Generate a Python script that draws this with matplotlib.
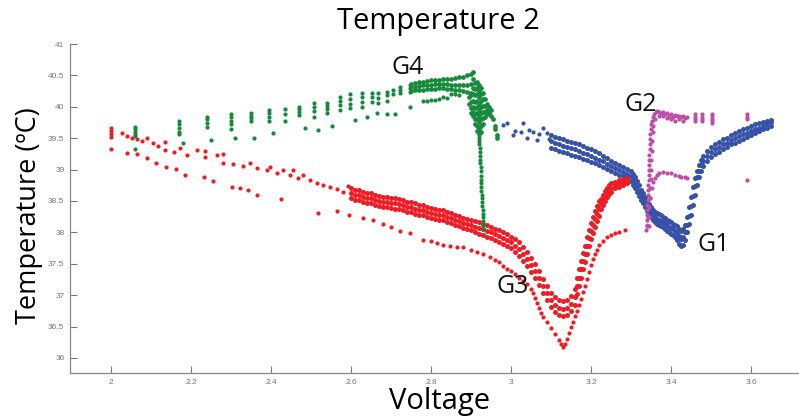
import numpy as np
import matplotlib
matplotlib.use('Agg')
import matplotlib.pyplot as plt

# ---- G3 (red) ----
g3_sparse_v = [2.0, 2.0, 2.0, 2.0, 2.0275, 2.04, 2.0525, 2.065, 2.0775, 2.09, 2.105, 2.1175, 2.135, 2.135,
               2.1575, 2.1725, 2.19, 2.215, 2.235, 2.235, 2.265, 2.28, 2.28, 2.305, 2.33, 2.3475, 2.365,
               2.39, 2.3975, 2.415, 2.43, 2.4475, 2.455, 2.4675, 2.48, 2.4975, 2.515, 2.53, 2.5475,
               2.565, 2.58, 2.5925]
g3_sparse_t = [39.66, 39.61, 39.57, 39.52, 39.58, 39.54, 39.50, 39.49, 39.46, 39.50, 39.42, 39.38, 39.44, 39.31,
               39.28, 39.34, 39.23, 39.31, 39.30, 39.20, 39.23, 39.25, 39.11, 39.09, 39.06, 39.11, 39.03,
               38.99, 39.04, 38.95, 38.99, 38.91, 38.99, 38.87, 38.91, 38.83, 38.79, 38.75, 38.72,
               38.69, 38.64, 38.74]

g3_band_v = [2.60, 2.61, 2.62, 2.63, 2.64, 2.65, 2.66, 2.67, 2.68, 2.69, 2.70, 2.71, 2.72, 2.73, 2.74, 2.75,
             2.76, 2.77, 2.78, 2.79, 2.80, 2.81, 2.82, 2.83, 2.84, 2.85, 2.86, 2.87, 2.88, 2.89, 2.90,
             2.91, 2.92, 2.93, 2.94, 2.95, 2.96, 2.97, 2.98, 2.99, 3.00,
             3.01, 3.02, 3.03, 3.04, 3.05, 3.06, 3.07, 3.08, 3.09, 3.10,
             3.11, 3.12, 3.13, 3.14, 3.15, 3.16,
             3.165, 3.17, 3.175, 3.18, 3.185, 3.19, 3.195, 3.20, 3.205, 3.21, 3.215, 3.22,
             3.225, 3.23, 3.235, 3.24, 3.245, 3.25,
             3.26, 3.27, 3.28, 3.29]
g3_band_hi = [38.70, 38.68, 38.67, 38.65, 38.63, 38.62, 38.60, 38.58, 38.57, 38.56, 38.55, 38.54, 38.53, 38.51,
              38.49, 38.48, 38.46, 38.44, 38.43, 38.41, 38.39, 38.38, 38.36, 38.35, 38.33, 38.31, 38.28,
              38.26, 38.23, 38.21, 38.19,
              38.18, 38.16, 38.14, 38.11, 38.09, 38.06, 38.03, 38.00, 37.97, 37.93,
              37.90, 37.84, 37.76, 37.68, 37.59, 37.49, 37.38, 37.26, 37.14, 37.03,
              36.97, 36.92, 36.90, 36.92, 36.98, 37.09,
              37.28, 37.41, 37.54, 37.67, 37.79, 37.92, 38.04, 38.15, 38.25, 38.34, 38.42, 38.50,
              38.53, 38.60, 38.66, 38.71, 38.75, 38.78,
              38.81, 38.83, 38.85, 38.86]
g3_band_mid = [38.62, 38.60, 38.59, 38.57, 38.55, 38.54, 38.52, 38.50, 38.49, 38.48, 38.47, 38.46, 38.45, 38.43,
               38.41, 38.40, 38.38, 38.36, 38.35, 38.33, 38.31, 38.30, 38.28, 38.27, 38.25, 38.23, 38.20,
               38.18, 38.15, 38.13, 38.11,
               38.09, 38.07, 38.05, 38.02, 38.00, 37.97, 37.94, 37.91, 37.88, 37.84,
               37.79, 37.73, 37.65, 37.57, 37.48, 37.38, 37.27, 37.15, 37.03, 36.92,
               36.85, 36.80, 36.78, 36.80, 36.86, 36.97,
               37.15, 37.28, 37.41, 37.54, 37.66, 37.79, 37.91, 38.02, 38.12, 38.21, 38.30, 38.38,
               38.45, 38.52, 38.58, 38.64, 38.68, 38.71,
               38.76, 38.78, 38.80, 38.82]
g3_band_lo = [38.54, 38.52, 38.51, 38.49, 38.47, 38.46, 38.44, 38.42, 38.41, 38.40, 38.39, 38.38, 38.37, 38.35,
              38.33, 38.32, 38.30, 38.28, 38.27, 38.25, 38.23, 38.22, 38.20, 38.19, 38.17, 38.15, 38.12,
              38.10, 38.07, 38.05, 38.03,
              38.00, 37.98, 37.96, 37.93, 37.91, 37.88, 37.85, 37.82, 37.79, 37.75,
              37.68, 37.62, 37.54, 37.46, 37.37, 37.27, 37.16, 37.04, 36.92, 36.81,
              36.73, 36.68, 36.66, 36.68, 36.74, 36.85,
              37.02, 37.15, 37.28, 37.41, 37.53, 37.66, 37.78, 37.89, 37.99, 38.08, 38.18, 38.26,
              38.37, 38.44, 38.50, 38.57, 38.61, 38.64,
              38.71, 38.73, 38.75, 38.78]

g3_low_v = [2.0, 2.04, 2.065, 2.09, 2.1125, 2.1375, 2.1625, 2.185, 2.2325, 2.255, 2.3025, 2.3225, 2.3425,
            2.365, 2.425, 2.5175, 2.565, 2.595, 2.63, 2.655, 2.68, 2.70, 2.7225, 2.7475, 2.78, 2.80,
            2.815, 2.83, 2.8475, 2.865, 2.88, 2.90, 2.915, 2.93, 2.9475,
            2.96, 2.97, 2.98, 2.99, 3.00, 3.01, 3.02, 3.03, 3.04, 3.05, 3.055, 3.06, 3.065, 3.07,
            3.075, 3.08, 3.09, 3.10, 3.11, 3.12, 3.125, 3.13, 3.135, 3.14, 3.145, 3.15, 3.155, 3.16,
            3.165, 3.17, 3.175, 3.18, 3.185, 3.19, 3.195, 3.20, 3.205, 3.21, 3.215, 3.22, 3.23, 3.24,
            3.25, 3.26, 3.27, 3.285]
g3_low_t = [39.33, 39.26, 39.25, 39.18, 39.11, 39.04, 39.01, 38.91, 38.88, 38.82, 38.72, 38.71, 38.68,
            38.60, 38.53, 38.31, 38.34, 38.28, 38.23, 38.20, 38.14, 38.08, 38.02, 37.99, 37.88, 37.86,
            37.83, 37.80, 37.78, 37.77, 37.77, 37.72, 37.69, 37.65, 37.61,
            37.56, 37.52, 37.47, 37.42, 37.38, 37.33, 37.27, 37.22, 37.17, 37.10, 37.04, 36.96, 36.88, 36.80,
            36.72, 36.65, 36.58, 36.48, 36.38, 36.28, 36.22, 36.17, 36.22, 36.30, 36.40, 36.50, 36.58, 36.66,
            36.75, 36.85, 36.94, 37.05, 37.15, 37.25, 37.37, 37.48, 37.58, 37.65, 37.72, 37.80, 37.86, 37.92,
            37.96, 37.99, 38.01, 38.04]

# ---- G4 (green) ----
g4_cols_v = [2.06] * 5 + [2.17] * 5 + [2.24] * 4 + [2.30] * 5 + [2.35] * 4 + [2.395] * 4 + [2.435] * 3 + \
            [2.47] * 4 + [2.5075] * 4 + [2.54] * 4 + [2.5725] * 4 + [2.5975] * 4 + [2.6275] * 4 + \
            [2.6525] * 3 + [2.6675] * 3 + [2.69] * 3 + [2.705] * 2 + [2.7225] * 3 + [2.7475] * 3
g4_cols_t = [39.68, 39.64, 39.60, 39.56, 39.53,
             39.77, 39.72, 39.66, 39.60, 39.56,
             39.84, 39.80, 39.74, 39.68,
             39.88, 39.84, 39.78, 39.72, 39.65,
             39.90, 39.86, 39.82, 39.78,
             39.95, 39.90, 39.84, 39.77,
             39.96, 39.88, 39.77,
             40.00, 39.96, 39.92, 39.87,
             40.06, 40.00, 39.94, 39.84,
             40.06, 40.02, 39.96, 39.90,
             40.16, 40.10, 40.03, 39.95,
             40.20, 40.12, 40.05, 39.98,
             40.22, 40.15, 40.08, 40.00,
             40.22, 40.16, 40.08,
             40.22, 40.14, 40.06,
             40.24, 40.18, 40.10,
             40.27, 40.20,
             40.32, 40.27, 40.22,
             40.35, 40.30, 40.24]
g4_low_v = [2.06, 2.18, 2.25, 2.31, 2.3575, 2.405, 2.485, 2.5175, 2.5525, 2.61, 2.64, 2.665, 2.69, 2.71,
            2.7475, 2.78, 2.79, 2.80, 2.81, 2.82, 2.83, 2.84, 2.85, 2.86, 2.87]
g4_low_t = [39.33, 39.42, 39.47, 39.50, 39.50, 39.58, 39.66, 39.63, 39.70, 39.79, 39.83, 39.90, 39.88, 39.88,
            40.00, 40.10, 40.10, 40.11, 40.11, 40.12, 40.15, 40.14, 40.20, 40.20, 40.18]

g4_band_v = [2.75, 2.76, 2.77, 2.78, 2.79, 2.80, 2.81, 2.82, 2.83, 2.84, 2.85, 2.86, 2.87, 2.88, 2.89, 2.90]
g4_band_hi = [40.37, 40.38, 40.39, 40.40, 40.41, 40.42, 40.42, 40.43, 40.44, 40.44, 40.45, 40.46, 40.47,
              40.48, 40.50, 40.52]
g4_band_mid = [40.31, 40.32, 40.33, 40.34, 40.35, 40.35, 40.36, 40.37, 40.37, 40.36, 40.35, 40.35, 40.34,
               40.34, 40.35, 40.36]
g4_band_lo = [40.25, 40.26, 40.27, 40.27, 40.28, 40.28, 40.29, 40.30, 40.30, 40.29, 40.28, 40.27, 40.26,
              40.25, 40.24, 40.22]

g4_fall_v = [2.905, 2.905, 2.895, 2.895, 2.90, 2.90, 2.90, 2.90,
             2.905, 2.905, 2.905, 2.905, 2.905, 2.905,
             2.91, 2.91, 2.91, 2.91, 2.91, 2.91, 2.91, 2.91,
             2.915, 2.915, 2.915, 2.915, 2.915, 2.915, 2.915, 2.915, 2.915,
             2.92, 2.92, 2.92, 2.92, 2.92, 2.92, 2.92, 2.92, 2.92,
             2.925, 2.925, 2.925, 2.925, 2.925, 2.925, 2.925, 2.925,
             2.93, 2.93, 2.93, 2.93, 2.93, 2.93,
             2.935, 2.935, 2.935, 2.935, 2.94, 2.94, 2.94, 2.945, 2.945, 2.95, 2.95,
             2.955, 2.96, 2.96, 2.965, 2.965]
g4_fall_t = [40.55, 40.45, 40.15, 40.05, 40.18, 40.08, 39.98, 39.90,
             40.30, 40.20, 40.10, 40.00, 39.92, 39.85,
             40.38, 40.28, 40.18, 40.08, 39.98, 39.88, 39.80, 39.72,
             40.40, 40.30, 40.20, 40.10, 40.00, 39.90, 39.80, 39.70, 39.62,
             40.35, 40.25, 40.15, 40.05, 39.95, 39.85, 39.75, 39.65, 39.58,
             40.30, 40.20, 40.10, 40.00, 39.90, 39.80, 39.70, 39.60,
             40.22, 40.12, 40.02, 39.92, 39.82, 39.72,
             40.12, 40.02, 39.92, 39.84, 40.05, 39.95, 39.88, 40.00, 39.90, 39.95, 39.85,
             39.80, 39.70, 39.65, 39.55, 39.50]

g4_drop_v = [2.920, 2.920, 2.921, 2.921, 2.922, 2.922, 2.922, 2.923, 2.923, 2.924, 2.924, 2.925, 2.925,
             2.925, 2.926, 2.926, 2.927, 2.927, 2.928, 2.928, 2.929, 2.929, 2.930, 2.930, 2.931, 2.931]
g4_drop_t = [39.55, 39.50, 39.45, 39.40, 39.34, 39.28, 39.22, 39.16, 39.10, 39.04, 38.97, 38.90, 38.84,
             38.78, 38.72, 38.66, 38.60, 38.54, 38.48, 38.42, 38.36, 38.30, 38.24, 38.18, 38.12, 38.06]

# ---- G1 (blue) ----
g1_sparse_v = [2.98, 2.99, 3.005, 3.01, 3.025, 3.03, 3.04, 3.045, 3.055, 3.065, 3.07, 3.08, 3.09, 3.095]
g1_sparse_t = [39.71, 39.74, 39.55, 39.62, 39.60, 39.74, 39.50, 39.63, 39.60, 39.47, 39.56, 39.66, 39.58, 39.48]

g1_band_v = [3.10, 3.11, 3.12, 3.13, 3.14, 3.15, 3.16, 3.17, 3.18, 3.19, 3.20, 3.21, 3.22, 3.23, 3.24, 3.25,
             3.26, 3.27, 3.28, 3.29, 3.30,
             3.305, 3.31, 3.315, 3.32, 3.325, 3.33, 3.335, 3.34, 3.345, 3.35, 3.355, 3.36, 3.365, 3.37,
             3.375, 3.38, 3.385, 3.39, 3.395, 3.40, 3.405, 3.41, 3.415, 3.42, 3.425, 3.43, 3.435, 3.44,
             3.445, 3.45, 3.455, 3.46, 3.465, 3.47, 3.475, 3.48,
             3.49, 3.50, 3.51, 3.52, 3.53, 3.54, 3.55, 3.56, 3.57, 3.58, 3.59, 3.60, 3.61, 3.62, 3.63,
             3.64, 3.65]
g1_band_hi = [39.55, 39.52, 39.50, 39.48, 39.46, 39.44, 39.42, 39.40, 39.37, 39.35, 39.32, 39.29, 39.26,
              39.22, 39.18, 39.14, 39.10, 39.07, 39.04, 39.01, 38.98,
              38.93, 38.88, 38.82, 38.75, 38.68, 38.62, 38.56, 38.50, 38.45, 38.40, 38.36, 38.33, 38.31,
              38.29, 38.27, 38.25, 38.23, 38.20, 38.18, 38.16, 38.14, 38.12, 38.10, 38.06, 38.02, 38.05,
              38.12, 38.25, 38.40, 38.56, 38.72, 38.86, 38.98, 39.08, 39.16, 39.22,
              39.30, 39.36, 39.40, 39.44, 39.48, 39.51, 39.55, 39.58, 39.61, 39.64, 39.67, 39.70, 39.72,
              39.74, 39.76, 39.78, 39.79]
g1_band_mid = [39.45, 39.42, 39.40, 39.38, 39.36, 39.34, 39.32, 39.30, 39.27, 39.25, 39.22, 39.19, 39.16,
               39.13, 39.09, 39.06, 39.02, 38.99, 38.96, 38.93, 38.90,
               38.84, 38.78, 38.72, 38.66, 38.60, 38.54, 38.48, 38.42, 38.37, 38.32, 38.28, 38.25, 38.22,
               38.20, 38.18, 38.16, 38.14, 38.11, 38.09, 38.07, 38.05, 38.02, 37.99, 37.94, 37.90, 37.92,
               38.00, 38.12, 38.26, 38.42, 38.58, 38.74, 38.88, 38.98, 39.07, 39.14,
               39.22, 39.28, 39.32, 39.36, 39.40, 39.43, 39.47, 39.50, 39.53, 39.56, 39.59, 39.62, 39.65,
               39.67, 39.70, 39.72, 39.75]
g1_band_lo = [39.35, 39.32, 39.30, 39.28, 39.26, 39.24, 39.22, 39.20, 39.17, 39.15, 39.12, 39.10, 39.07,
              39.04, 39.01, 38.98, 38.95, 38.92, 38.89, 38.86, 38.82,
              38.76, 38.70, 38.64, 38.58, 38.52, 38.46, 38.40, 38.34, 38.29, 38.24, 38.20, 38.17, 38.14,
              38.12, 38.10, 38.08, 38.05, 38.02, 38.00, 37.98, 37.95, 37.92, 37.88, 37.82, 37.78, 37.80,
              37.88, 38.00, 38.14, 38.28, 38.44, 38.60, 38.76, 38.88, 38.98, 39.06,
              39.14, 39.20, 39.25, 39.28, 39.32, 39.36, 39.40, 39.42, 39.46, 39.49, 39.52, 39.55, 39.58,
              39.61, 39.64, 39.66, 39.70]

# ---- G2 (magenta) ----
g2_rise_v = [3.338, 3.339, 3.340, 3.340, 3.341, 3.341, 3.342, 3.342, 3.343, 3.343, 3.344, 3.344, 3.345,
             3.345, 3.346, 3.346, 3.347, 3.347, 3.348, 3.348, 3.349, 3.350, 3.352, 3.355, 3.358, 3.362,
             3.344, 3.345, 3.346, 3.347, 3.348, 3.349, 3.350, 3.351, 3.352, 3.353, 3.354, 3.356, 3.360]
g2_rise_t = [38.04, 38.12, 38.20, 38.28, 38.36, 38.44, 38.52, 38.60, 38.68, 38.76, 38.84, 38.92, 39.00,
             39.08, 39.16, 39.24, 39.32, 39.40, 39.48, 39.56, 39.64, 39.72, 39.78, 39.84, 39.88, 39.92,
             38.10, 38.25, 38.40, 38.55, 38.70, 38.85, 39.00, 39.15, 39.30, 39.45, 39.60, 39.70, 39.80]
g2_top_v = [3.365, 3.37, 3.37, 3.375, 3.38, 3.38, 3.385, 3.39, 3.39, 3.395, 3.40, 3.40, 3.405, 3.41, 3.41,
            3.415, 3.42, 3.42, 3.425, 3.43, 3.43, 3.435, 3.44,
            3.46, 3.46, 3.46, 3.46, 3.4775, 3.4775, 3.4775, 3.4775,
            3.5025, 3.5025, 3.5025, 3.5025, 3.5025, 3.59, 3.59, 3.59]
g2_top_t = [39.94, 39.92, 39.86, 39.90, 39.92, 39.85, 39.88, 39.90, 39.82, 39.86, 39.88, 39.80, 39.84, 39.87,
            39.78, 39.85, 39.86, 39.80, 39.84, 39.85, 39.78, 39.82, 39.84,
            39.88, 39.84, 39.80, 39.77, 39.88, 39.84, 39.80, 39.77,
            39.89, 39.85, 39.81, 39.77, 39.74, 39.88, 39.84, 39.80]
g2_low_v = [3.34, 3.342, 3.345, 3.348, 3.352, 3.356, 3.36, 3.365, 3.37, 3.38, 3.39, 3.40, 3.41, 3.42,
            3.425, 3.435, 3.44, 3.59]
g2_low_t = [38.10, 38.25, 38.40, 38.55, 38.70, 38.80, 38.87, 38.92, 38.95, 38.96, 38.95, 38.95, 38.92,
            38.90, 38.88, 38.88, 38.87, 38.83]

x_ticks = [2, 2.2, 2.4, 2.6, 2.8, 3, 3.2, 3.4, 3.6]
x_tick_labels = ['2', '2.2', '2.4', '2.6', '2.8', '3', '3.2', '3.4', '3.6']
y_ticks = [36, 36.5, 37, 37.5, 38, 38.5, 39, 39.5, 40, 40.5, 41]
y_tick_labels = ['36', '36.5', '37', '37.5', '38', '38.5', '39', '39.5', '40', '40.5', '41']

RED = '#ee1c24'
GREEN = '#168a3c'
BLUE = '#3552a8'
MAGENTA = '#bb4fa6'

plt.rcParams['font.family'] = ['Open Sans', 'DejaVu Sans']

fig = plt.figure(figsize=(7.99, 4.19), dpi=100)
ax = fig.add_axes([70 / 799, 46 / 419, 729 / 799, 329 / 419])


def dots(v, t, c, ms=3.0):
    ax.plot(v, t, linestyle='none', marker='o', markersize=ms, markeredgewidth=0, color=c)


# dense bands get a slightly bigger dot so they read as filled
dots(g1_sparse_v, g1_sparse_t, BLUE)
for arr in (g1_band_hi, g1_band_mid, g1_band_lo):
    dots(g1_band_v, arr, BLUE, 3.6)

dots(g3_sparse_v, g3_sparse_t, RED)
for arr in (g3_band_hi, g3_band_mid, g3_band_lo):
    dots(g3_band_v, arr, RED, 3.6)
dots(g3_low_v, g3_low_t, RED)

dots(g4_cols_v, g4_cols_t, GREEN)
dots(g4_low_v, g4_low_t, GREEN)
for arr in (g4_band_hi, g4_band_mid, g4_band_lo):
    dots(g4_band_v, arr, GREEN, 3.4)
dots(g4_fall_v, g4_fall_t, GREEN, 3.4)
dots(g4_drop_v, g4_drop_t, GREEN)

dots(g2_rise_v, g2_rise_t, MAGENTA)
dots(g2_top_v, g2_top_t, MAGENTA)
dots(g2_low_v, g2_low_t, MAGENTA)

ax.set_xlim(1.8975, 3.72)
ax.set_ylim(35.76, 41)
ax.set_xticks(x_ticks)
ax.set_xticklabels(x_tick_labels)
ax.set_yticks(y_ticks)
ax.set_yticklabels(y_tick_labels)
for lab in ax.get_xticklabels() + ax.get_yticklabels():
    lab.set_family('Liberation Sans')
ax.tick_params(direction='in', length=5, width=0.8, colors='#777777', labelsize=6, pad=4)
ax.spines['top'].set_visible(False)
ax.spines['right'].set_visible(False)
for s in ('left', 'bottom'):
    ax.spines[s].set_color('#888888')
    ax.spines[s].set_linewidth(0.9)

lab_kw = dict(fontsize=18, color='#111111', ha='center', va='center')
ax.text(2.7425, 40.63, 'G4', **lab_kw)
ax.text(3.325, 40.03, 'G2', **lab_kw)
ax.text(3.5075, 37.80, 'G1', **lab_kw)
ax.text(3.005, 37.13, 'G3', **lab_kw)

fig.text(438 / 799, 1 - 22 / 419, 'Temperature 2', fontsize=21, ha='center', va='center')
fig.text(440 / 799, 1 - 401 / 419, 'Voltage', fontsize=21, ha='center', va='center')
fig.text(29 / 799, 1 - 216 / 419, 'Temperature (ºC)', fontsize=19.5, rotation=90, ha='center', va='center')

fig.savefig('out.png', dpi=100)
